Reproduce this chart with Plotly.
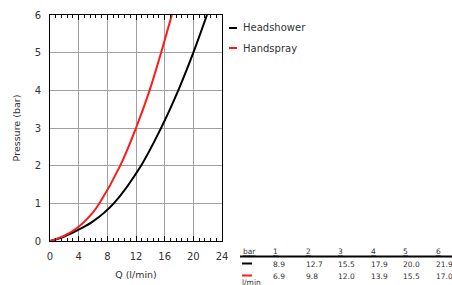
import plotly.graph_objects as go

# ---- data ----
pressure_bar = [1, 2, 3, 4, 5, 6]
headshower_q = [8.9, 12.7, 15.5, 17.9, 20.0, 21.9]
handspray_q = [6.9, 9.8, 12.0, 13.9, 15.5, 17.0]
# low-flow part of the curves
low_q = [0, 2, 4, 6]
headshower_low_p = [0, 0.12, 0.30, 0.52]
handspray_low_p = [0, 0.14, 0.38, 0.76]
series_names = ["Headshower", "Handspray"]
series_colors = ["#000000", "#ff1a1a"]
x_ticks = [0, 4, 8, 12, 16, 20, 24]
y_ticks = [0, 1, 2, 3, 4, 5, 6]

W, H = 452, 285
L, R, T, B = 50, 230, 15, 44
PW, PH = W - L - R, H - T - B
FONT = "DejaVu Sans"
TXT = "#333333"


def px(x):
    return (x - L) / PW


def py(y):
    return (H - B - y) / PH


fig = go.Figure()
for name, qs, lowp, col in zip(series_names, [headshower_q, handspray_q],
                               [headshower_low_p, handspray_low_p], series_colors):
    fig.add_trace(go.Scatter(
        x=low_q + qs, y=lowp + pressure_bar, mode="lines", name=name,
        line=dict(color=col, width=2, shape="spline", smoothing=1.0),
        showlegend=False, cliponaxis=True))

fig.update_xaxes(
    range=[0, 24], tickvals=x_ticks, ticks="inside", ticklen=5, tickcolor="#000",
    mirror="allticks", showline=True, linecolor="#000", linewidth=1,
    showgrid=True, gridcolor="#a0a0a0", gridwidth=1, zeroline=False, automargin=False,
    minor=dict(dtick=0.8, tick0=0, ticks="inside", ticklen=3, tickcolor="#000", showgrid=False),
    tickfont=dict(family=FONT, size=10, color=TXT), ticklabelstandoff=6,
    title=dict(text="Q (l/min)", font=dict(family=FONT, size=9.5, color=TXT), standoff=10),
    fixedrange=True)
fig.update_yaxes(
    range=[0, 6], tickvals=y_ticks, ticks="", mirror=True, showline=True,
    linecolor="#000", linewidth=1, showgrid=True, gridcolor="#a0a0a0", gridwidth=1,
    zeroline=False, automargin=False, tickfont=dict(family=FONT, size=10, color=TXT),
    ticklabelstandoff=6,
    title=dict(text="Pressure (bar)", font=dict(family=FONT, size=9.5, color=TXT), standoff=12),
    fixedrange=True)

shapes = []
annotations = []

# custom legend
for i, (name, col) in enumerate(zip(series_names, series_colors)):
    yy = 28 + i * 20
    shapes.append(dict(type="line", xref="paper", yref="paper", x0=px(229), x1=px(237),
                       y0=py(yy), y1=py(yy), line=dict(color=col, width=2)))
    annotations.append(dict(xref="paper", yref="paper", x=px(241), y=py(yy), text=name,
                            showarrow=False, xanchor="left", yanchor="middle",
                            font=dict(family=FONT, size=10, color=TXT)))

# table
col_x = [271 + 32.6 * i for i in range(len(pressure_bar))]
TF = dict(family=FONT, size=7.5, color=TXT)
annotations.append(dict(xref="paper", yref="paper", x=px(241), y=py(251.5), text="<u>bar</u>",
                        showarrow=False, xanchor="left", yanchor="middle", font=TF))
for cx, b in zip(col_x, pressure_bar):
    annotations.append(dict(xref="paper", yref="paper", x=px(cx), y=py(251.5), text=f"<u>{b}</u>",
                            showarrow=False, xanchor="left", yanchor="middle", font=TF))
shapes.append(dict(type="line", xref="paper", yref="paper", x0=px(240), x1=px(455),
                   y0=py(256.5), y1=py(256.5), line=dict(color="#000", width=2)))
row_y = [264, 276]
for ry, qs, col in zip(row_y, [headshower_q, handspray_q], series_colors):
    shapes.append(dict(type="line", xref="paper", yref="paper", x0=px(242), x1=px(252),
                       y0=py(ry - 0.5), y1=py(ry - 0.5), line=dict(color=col, width=2)))
    for cx, q in zip(col_x, qs):
        annotations.append(dict(xref="paper", yref="paper", x=px(cx), y=py(ry), text=f"{q:.1f}",
                                showarrow=False, xanchor="left", yanchor="middle", font=TF))
annotations.append(dict(xref="paper", yref="paper", x=px(240), y=py(282), text="l/min",
                        showarrow=False, xanchor="left", yanchor="middle", font=TF))

fig.update_layout(
    width=W, height=H, margin=dict(l=L, r=R, t=T, b=B, pad=0, autoexpand=False),
    paper_bgcolor="white", plot_bgcolor="white",
    shapes=shapes, annotations=annotations, showlegend=False)

fig.write_html("out.html", config={"displayModeBar": False},
               post_script="document.body.style.margin='0';document.body.style.overflow='hidden';")
